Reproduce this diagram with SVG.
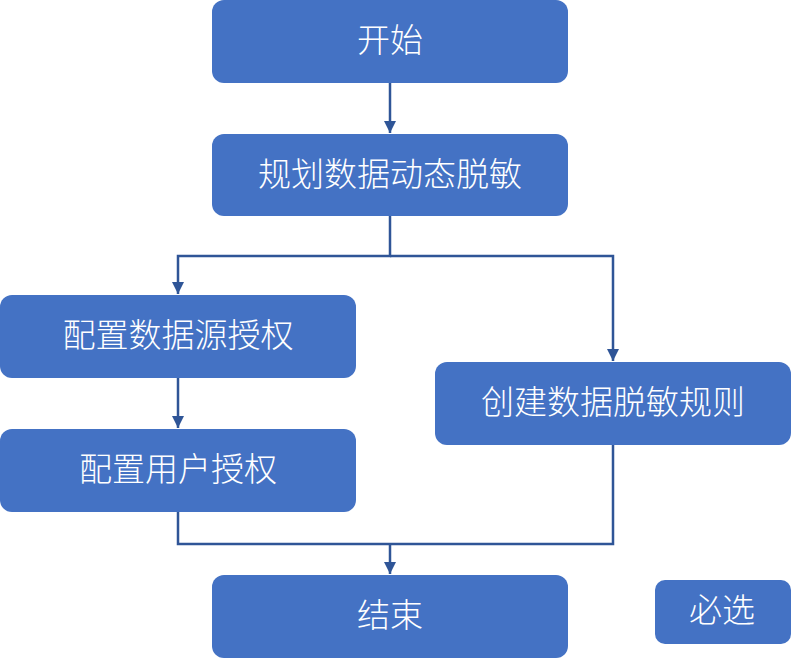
<svg xmlns="http://www.w3.org/2000/svg" width="791" height="659" viewBox="0 0 791 659">
<style>
.box{fill:#4472C4;}
.lbl{fill:#ffffff;font-family:"Noto Sans CJK SC","Microsoft YaHei",sans-serif;font-size:33px;font-weight:300;text-anchor:middle;dominant-baseline:central;}
.ln{fill:none;stroke:#2F5597;stroke-width:2.5;}
</style>
<defs>
<marker id="arr" markerWidth="12" markerHeight="12" refX="10" refY="5" orient="auto" markerUnits="userSpaceOnUse" viewBox="0 0 10 10">
<path d="M0,0 L10,5 L0,10 Z" fill="#2F5597"/>
</marker>
</defs>
<g id="connectors">
<path class="ln" d="M390,83 V133" marker-end="url(#arr)"/>
<path class="ln" d="M390,216 V256 H178 V294" marker-end="url(#arr)"/>
<path class="ln" d="M390,256 H613 V361" marker-end="url(#arr)"/>
<path class="ln" d="M178,378 V428" marker-end="url(#arr)"/>
<path class="ln" d="M178,512 V544 H613 V445"/>
<path class="ln" d="M390,544 V574" marker-end="url(#arr)"/>
</g>
<g id="start"><rect class="box" x="212" y="0" width="356" height="83" rx="12"/><text class="lbl" x="390" y="38">开始</text></g>
<g id="plan"><rect class="box" x="212" y="134" width="356" height="82" rx="12"/><text class="lbl" x="390" y="172">规划数据动态脱敏</text></g>
<g id="datasource"><rect class="box" x="0" y="295" width="356" height="83" rx="12"/><text class="lbl" x="178" y="333">配置数据源授权</text></g>
<g id="rule"><rect class="box" x="435" y="362" width="356" height="83" rx="12"/><text class="lbl" x="613" y="400">创建数据脱敏规则</text></g>
<g id="user"><rect class="box" x="0" y="429" width="356" height="83" rx="12"/><text class="lbl" x="178" y="467">配置用户授权</text></g>
<g id="end"><rect class="box" x="212" y="575" width="356" height="83" rx="12"/><text class="lbl" x="390" y="613">结束</text></g>
<g id="legend"><rect class="box" x="655" y="580" width="136" height="64" rx="10"/><text class="lbl" x="722" y="608">必选</text></g>
</svg>
